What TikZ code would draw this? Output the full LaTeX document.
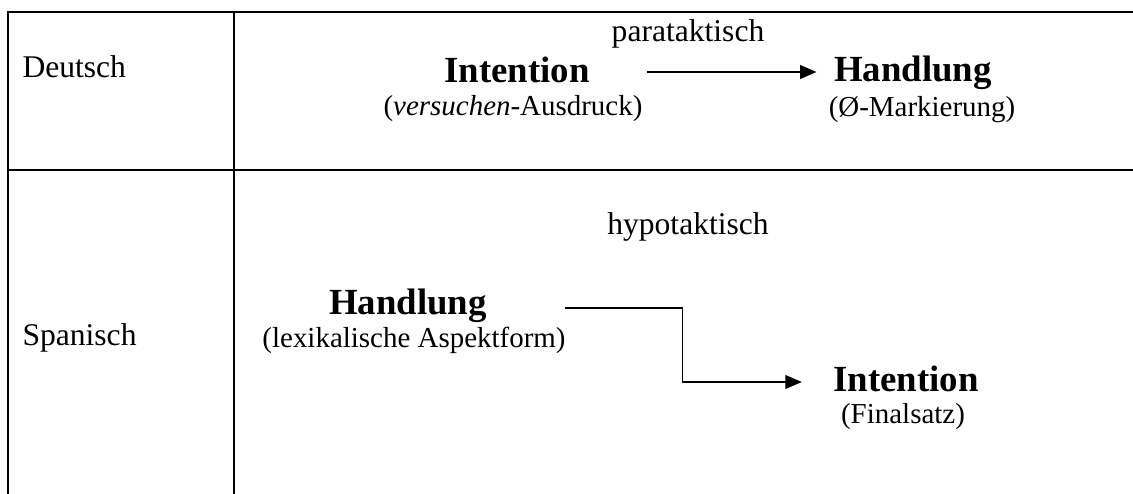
\documentclass[tikz,border=0pt]{standalone}
\usepackage{fontspec}
\setmainfont{Liberation Serif}
\usetikzlibrary{arrows.meta,calc}
\begin{document}
\begin{tikzpicture}[x=0.38pt,y=-0.38pt,
  rule/.style={line width=1.05pt},
  lang/.style={anchor=base west,inner sep=0pt,font=\fontsize{12}{14}\selectfont},
  rel/.style={anchor=base,inner sep=0pt,font=\fontsize{12}{14}\selectfont},
  term/.style={anchor=base,inner sep=0pt,font=\fontsize{14}{16}\selectfont\bfseries},
  note/.style={anchor=base,inner sep=0pt,font=\fontsize{11}{13}\selectfont},
  arr/.style={line width=0.55pt,-{Triangle[length=6.2pt,width=5.2pt]}}]
\useasboundingbox (0,0) rectangle (1133,494);
\fill[white] (0,0) rectangle (1133,494);

% table rules
\draw[rule] (8,494) -- (8,12) -- (1133,12);
\draw[rule] (8,170) -- (1133,170);
\draw[rule] (234,12) -- (234,494);

% row labels
\node[lang] (de) at (22,78) {Deutsch};
\node[lang] (es) at (22,345) {Spanisch};

% German row
\node[rel]  (para)   at (688,42)  {parataktisch};
\node[term] (int1)   at (517,83)  {Intention};
\node[note] (int1n)  at (513,116) {(\textit{versuchen}-Ausdruck)};
\node[term] (hand1)  at (913,82)  {Handlung};
\node[note] (hand1n) at (922,117) {(Ø-Markierung)};

% Spanish row
\node[rel]  (hypo)   at (688,235) {hypotaktisch};
\node[term] (hand2)  at (408,315) {Handlung};
\node[note] (hand2n) at (414,347) {(lexikalische Aspektform)};
\node[term] (int2)   at (906,392) {Intention};
\node[note] (int2n)  at (903,424) {(Finalsatz)};

% connectors
\coordinate (p1) at ($(int1.base east)+(57,-11)$);
\draw[arr,shorten >=6.5pt] (p1) -- (p1 -| hand1.west);

\coordinate (p2) at ($(hand2.base east)+(78,-7)$);
\coordinate (p3) at ($(int2.base west)+(-31,-10)$);
\draw[arr] (p2) -- ++(117,0) |- (p3);
\end{tikzpicture}
\end{document}
